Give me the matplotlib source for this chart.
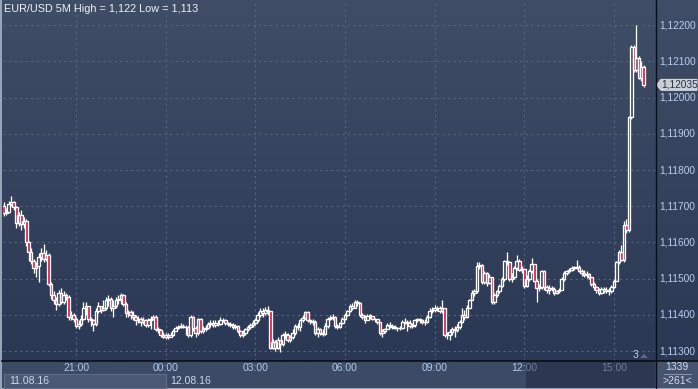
import matplotlib
matplotlib.use("Agg")
import matplotlib.pyplot as plt
from matplotlib.patches import Rectangle, Polygon
from matplotlib.transforms import blended_transform_factory, Bbox, TransformedBbox
import numpy as np
import pandas as pd

plt.rcParams['font.family'] = ['Liberation Sans', 'DejaVu Sans']

# ---------- data: EUR/USD 5M candles, 11.08.16 18:35 -> 12.08.16 16:00 ----------
start_time = "2016-08-11 18:35"
first_open = 1.11700

close = [
    1.11680, 1.11685, 1.11705, 1.11712, 1.11698, 1.11655, 1.11675, 1.11650, 1.11660, 1.11600,
    1.11575, 1.11550, 1.11530, 1.11535, 1.11560, 1.11570, 1.11555, 1.11565, 1.11485, 1.11455,
    1.11440, 1.11430, 1.11460, 1.11435, 1.11455, 1.11450, 1.11395, 1.11400, 1.11390, 1.11370,
    1.11375, 1.11390, 1.11420, 1.11425, 1.11390, 1.11385, 1.11375, 1.11410, 1.11425, 1.11415,
    1.11420, 1.11440, 1.11445, 1.11420, 1.11425, 1.11440, 1.11445, 1.11455, 1.11430, 1.11405,
    1.11408, 1.11400, 1.11395, 1.11385, 1.11390, 1.11380, 1.11385, 1.11372, 1.11385, 1.11390,
    1.11395, 1.11360, 1.11358, 1.11345, 1.11340, 1.11345, 1.11340, 1.11345, 1.11355, 1.11365,
    1.11368, 1.11370, 1.11368, 1.11366, 1.11345, 1.11395, 1.11365, 1.11350, 1.11388, 1.11355,
    1.11362, 1.11365, 1.11375, 1.11378, 1.11372, 1.11378, 1.11375, 1.11385, 1.11387, 1.11378,
    1.11375, 1.11372, 1.11366, 1.11370, 1.11355, 1.11345, 1.11350, 1.11360, 1.11368, 1.11372,
    1.11378, 1.11385, 1.11400, 1.11410, 1.11405, 1.11415, 1.11410, 1.11310, 1.11325, 1.11310,
    1.11330, 1.11320, 1.11345, 1.11345, 1.11330, 1.11340, 1.11350, 1.11370, 1.11368, 1.11385,
    1.11392, 1.11408, 1.11385, 1.11383, 1.11380, 1.11350, 1.11362, 1.11350, 1.11348, 1.11370,
    1.11390, 1.11392, 1.11395, 1.11370, 1.11368, 1.11378, 1.11390, 1.11400, 1.11410, 1.11425,
    1.11420, 1.11435, 1.11432, 1.11400, 1.11395, 1.11385, 1.11398, 1.11398, 1.11390, 1.11388,
    1.11380, 1.11350, 1.11355, 1.11360, 1.11372, 1.11370, 1.11368, 1.11365, 1.11363, 1.11365,
    1.11380, 1.11382, 1.11378, 1.11370, 1.11372, 1.11385, 1.11388, 1.11385, 1.11382, 1.11380,
    1.11395, 1.11410, 1.11415, 1.11420, 1.11418, 1.11412, 1.11418, 1.11345, 1.11345, 1.11352,
    1.11362, 1.11358, 1.11368, 1.11380, 1.11400, 1.11395, 1.11420, 1.11440, 1.11462, 1.11465,
    1.11535, 1.11538, 1.11490, 1.11515, 1.11488, 1.11505, 1.11435, 1.11455, 1.11465, 1.11480,
    1.11500, 1.11548, 1.11545, 1.11500, 1.11505, 1.11530, 1.11550, 1.11525, 1.11528, 1.11480,
    1.11500, 1.11520, 1.11540, 1.11495, 1.11475, 1.11478, 1.11520, 1.11478, 1.11470, 1.11475,
    1.11472, 1.11462, 1.11465, 1.11470, 1.11500, 1.11515, 1.11520, 1.11525, 1.11530, 1.11530,
    1.11533, 1.11522, 1.11515, 1.11510, 1.11512, 1.11505, 1.11485, 1.11478, 1.11470, 1.11462,
    1.11472, 1.11465, 1.11470, 1.11467, 1.11478, 1.11495, 1.11545, 1.11575, 1.11552, 1.11648,
    1.11635, 1.11945, 1.12140, 1.12075, 1.12110, 1.12055, 1.12085, 1.12035,
]

high = [
    1.11712, 1.11695, 1.11715, 1.11728, 1.11715, 1.11700, 1.11685, 1.11690, 1.11670, 1.11665,
    1.11605, 1.11585, 1.11555, 1.11545, 1.11570, 1.11585, 1.11595, 1.11580, 1.11570, 1.11490,
    1.11465, 1.11450, 1.11470, 1.11475, 1.11465, 1.11460, 1.11455, 1.11410, 1.11405, 1.11395,
    1.11385, 1.11400, 1.11435, 1.11435, 1.11425, 1.11395, 1.11390, 1.11420, 1.11435, 1.11425,
    1.11440, 1.11450, 1.11455, 1.11450, 1.11440, 1.11450, 1.11455, 1.11460, 1.11458, 1.11435,
    1.11415, 1.11415, 1.11410, 1.11400, 1.11398, 1.11395, 1.11395, 1.11390, 1.11392, 1.11398,
    1.11400, 1.11400, 1.11368, 1.11360, 1.11352, 1.11350, 1.11350, 1.11352, 1.11362, 1.11370,
    1.11372, 1.11378, 1.11375, 1.11372, 1.11370, 1.11400, 1.11398, 1.11370, 1.11392, 1.11392,
    1.11370, 1.11372, 1.11382, 1.11385, 1.11385, 1.11385, 1.11385, 1.11395, 1.11392, 1.11390,
    1.11382, 1.11380, 1.11378, 1.11376, 1.11372, 1.11358, 1.11358, 1.11365, 1.11372, 1.11378,
    1.11385, 1.11392, 1.11408, 1.11420, 1.11420, 1.11422, 1.11425, 1.11410, 1.11335, 1.11330,
    1.11340, 1.11330, 1.11350, 1.11355, 1.11350, 1.11345, 1.11360, 1.11375, 1.11378, 1.11390,
    1.11400, 1.11412, 1.11410, 1.11390, 1.11388, 1.11385, 1.11368, 1.11365, 1.11360, 1.11378,
    1.11395, 1.11400, 1.11402, 1.11398, 1.11375, 1.11382, 1.11395, 1.11405, 1.11415, 1.11430,
    1.11432, 1.11442, 1.11440, 1.11435, 1.11405, 1.11400, 1.11402, 1.11402, 1.11398, 1.11392,
    1.11390, 1.11382, 1.11362, 1.11365, 1.11378, 1.11380, 1.11374, 1.11372, 1.11368, 1.11370,
    1.11385, 1.11392, 1.11386, 1.11385, 1.11378, 1.11390, 1.11392, 1.11392, 1.11390, 1.11388,
    1.11400, 1.11419, 1.11422, 1.11428, 1.11425, 1.11424, 1.11441, 1.11420, 1.11352, 1.11360,
    1.11368, 1.11370, 1.11375, 1.11385, 1.11420, 1.11415, 1.11428, 1.11445, 1.11468, 1.11472,
    1.11545, 1.11545, 1.11540, 1.11520, 1.11518, 1.11512, 1.11505, 1.11460, 1.11470, 1.11485,
    1.11505, 1.11552, 1.11573, 1.11548, 1.11515, 1.11535, 1.11565, 1.11555, 1.11535, 1.11530,
    1.11510, 1.11528, 1.11558, 1.11542, 1.11500, 1.11485, 1.11525, 1.11525, 1.11482, 1.11482,
    1.11480, 1.11478, 1.11470, 1.11475, 1.11505, 1.11520, 1.11525, 1.11530, 1.11535, 1.11536,
    1.11552, 1.11538, 1.11526, 1.11525, 1.11520, 1.11515, 1.11505, 1.11490, 1.11480, 1.11475,
    1.11478, 1.11476, 1.11478, 1.11475, 1.11482, 1.11500, 1.11550, 1.11580, 1.11593, 1.11658,
    1.11665, 1.11950, 1.12145, 1.12145, 1.12200, 1.12115, 1.12100, 1.12090,
]

low = [
    1.11672, 1.11675, 1.11680, 1.11700, 1.11690, 1.11640, 1.11645, 1.11635, 1.11640, 1.11590,
    1.11550, 1.11540, 1.11515, 1.11505, 1.11490, 1.11550, 1.11545, 1.11550, 1.11480, 1.11445,
    1.11430, 1.11415, 1.11425, 1.11430, 1.11430, 1.11440, 1.11385, 1.11385, 1.11380, 1.11365,
    1.11360, 1.11370, 1.11385, 1.11400, 1.11380, 1.11370, 1.11355, 1.11370, 1.11405, 1.11405,
    1.11410, 1.11415, 1.11425, 1.11410, 1.11395, 1.11420, 1.11430, 1.11430, 1.11425, 1.11395,
    1.11395, 1.11390, 1.11385, 1.11372, 1.11378, 1.11370, 1.11375, 1.11368, 1.11368, 1.11362,
    1.11385, 1.11355, 1.11350, 1.11340, 1.11336, 1.11335, 1.11335, 1.11338, 1.11342, 1.11355,
    1.11362, 1.11365, 1.11364, 1.11345, 1.11340, 1.11340, 1.11355, 1.11340, 1.11345, 1.11350,
    1.11350, 1.11355, 1.11362, 1.11368, 1.11368, 1.11368, 1.11370, 1.11372, 1.11380, 1.11372,
    1.11370, 1.11366, 1.11362, 1.11360, 1.11350, 1.11340, 1.11338, 1.11345, 1.11355, 1.11362,
    1.11368, 1.11372, 1.11380, 1.11395, 1.11395, 1.11400, 1.11400, 1.11305, 1.11305, 1.11300,
    1.11305, 1.11298, 1.11315, 1.11335, 1.11325, 1.11325, 1.11335, 1.11345, 1.11358, 1.11355,
    1.11380, 1.11390, 1.11380, 1.11375, 1.11372, 1.11345, 1.11338, 1.11345, 1.11342, 1.11345,
    1.11365, 1.11385, 1.11385, 1.11365, 1.11362, 1.11365, 1.11375, 1.11385, 1.11398, 1.11408,
    1.11415, 1.11418, 1.11425, 1.11395, 1.11390, 1.11378, 1.11385, 1.11390, 1.11385, 1.11380,
    1.11375, 1.11345, 1.11338, 1.11350, 1.11360, 1.11365, 1.11362, 1.11360, 1.11356, 1.11358,
    1.11362, 1.11375, 1.11355, 1.11365, 1.11365, 1.11368, 1.11380, 1.11378, 1.11376, 1.11372,
    1.11378, 1.11392, 1.11405, 1.11408, 1.11410, 1.11405, 1.11405, 1.11340, 1.11335, 1.11330,
    1.11345, 1.11340, 1.11352, 1.11362, 1.11378, 1.11385, 1.11392, 1.11418, 1.11440, 1.11452,
    1.11462, 1.11528, 1.11485, 1.11485, 1.11480, 1.11485, 1.11430, 1.11430, 1.11450, 1.11460,
    1.11478, 1.11495, 1.11538, 1.11495, 1.11492, 1.11500, 1.11525, 1.11520, 1.11515, 1.11475,
    1.11478, 1.11495, 1.11515, 1.11490, 1.11436, 1.11465, 1.11472, 1.11470, 1.11462, 1.11458,
    1.11465, 1.11455, 1.11458, 1.11462, 1.11468, 1.11495, 1.11510, 1.11515, 1.11522, 1.11524,
    1.11526, 1.11518, 1.11508, 1.11505, 1.11502, 1.11498, 1.11480, 1.11470, 1.11462, 1.11455,
    1.11458, 1.11460, 1.11460, 1.11455, 1.11462, 1.11475, 1.11495, 1.11540, 1.11548, 1.11545,
    1.11625, 1.11630, 1.11940, 1.12070, 1.12070, 1.12050, 1.12045, 1.12030,
]

price_ticks = [1.11300, 1.11400, 1.11500, 1.11600, 1.11700, 1.11800, 1.11900, 1.12000, 1.12100, 1.12200]
bar_count = "1339"
visible_count = ">261<"
marker_label = "3"

# ---------- style ----------
W, H = 698, 389
BG_TOP = np.array([64, 77, 102]) / 255
BG_BOT = np.array([43, 56, 85]) / 255
GRID = "#56647e"
RED = "#e0143c"
AXIS_TXT = "#aecbef"
DIM_TXT = "#6f7e99"
FS = 7.5


def comma(p, nd=5):
    return f"{p:.{nd}f}".replace(".", ",")


close = np.array(close)
high = np.array(high)
low = np.array(low)
opens = np.concatenate([[first_open], close[:-1]])
idx = np.arange(len(close))
times = pd.date_range(start_time, periods=len(close), freq="5min")

fig = plt.figure(figsize=(W / 100, H / 100), dpi=100)
fig.patch.set_facecolor("#3d4a65")

# gradient background behind plot + price scale
ax_bg = fig.add_axes([0, 28 / H, 1, 361 / H])
grad = np.linspace(0, 1, 256)[:, None, None]
img = BG_TOP * (1 - grad) + BG_BOT * grad
ax_bg.imshow(np.repeat(img, 2, axis=1), aspect="auto", extent=[0, 1, 0, 1], origin="upper")
ax_bg.axis("off")

# main chart axes
ax = fig.add_axes([3 / W, 28 / H, 652 / W, 361 / H])
ax.set_facecolor("none")
ax.set_xlim(-0.32, 261.5)
ax.set_ylim(1.112731, 1.1226897)
for s in ax.spines.values():
    s.set_visible(False)
ax.set_xticks([])
ax.set_yticks([])

# grid
hour_idx = [i for i, t in enumerate(times) if t.minute == 0 and t.hour % 3 == 0]
for p in price_ticks:
    ax.axhline(p, color=GRID, lw=0.8, ls=(0, (2, 3)), zorder=1)
for i in hour_idx:
    ax.axvline(i, color=GRID, lw=0.8, ls=(0, (2, 3)), zorder=1)

# candles
body_lo = np.minimum(opens, close)
body_hi = np.maximum(opens, close)
heights = np.maximum(body_hi - body_lo, 0.000018)
ax.vlines(idx, low, body_lo, color="white", lw=0.95, zorder=2)
ax.vlines(idx, body_hi, high, color="white", lw=0.95, zorder=2)
faces = [RED if c < o else "none" for o, c in zip(opens, close)]
ax.bar(idx, heights, bottom=body_lo, width=1.05, color=faces,
       edgecolor="white", linewidth=0.95, zorder=3)

# ---------- overlay in pixel coordinates ----------
ui = fig.add_axes([0, 0, 1, 1], zorder=5)
ui.set_xlim(0, W)
ui.set_ylim(H, 0)
ui.axis("off")
ui.patch.set_alpha(0)

# borders and panels
ui.add_patch(Rectangle((0, 0), 2, H, color="#9aa4b6", lw=0))
ui.add_patch(Rectangle((2, 361), 524, 28, color="#3d4a66", lw=0))
ui.add_patch(Rectangle((526, 361), 129, 28, color="#2c3752", lw=0))
ui.add_patch(Rectangle((656, 361), 42, 28, color="#46536e", lw=0))
ui.add_patch(Rectangle((0, 387.5), W, 1.5, color="#9aa4b6", lw=0))
ui.plot([2, W], [361, 361], color="#0b0e14", lw=1.2)
ui.plot([655.5, 655.5], [0, 389], color="#0b0e14", lw=1.0)

# title
title = f"EUR/USD 5M High = {comma(high.max(), 3)} Low = {comma(low.min(), 3)}"
ui.text(4, 8.5, title, color="#eef2f8", fontsize=7.8, va="center", ha="left")

# time labels (bright on the light part of the bar, dim on the dark part)
bx = blended_transform_factory(ax.transData, ui.transData)
clip_light = TransformedBbox(Bbox([[2, 361], [526, 389]]), ui.transData)
clip_dark = TransformedBbox(Bbox([[526, 361], [655, 389]]), ui.transData)
for i in hour_idx:
    for col, cb in ((AXIS_TXT, clip_light), (DIM_TXT, clip_dark)):
        t = ui.text(i, 368, times[i].strftime("%H:%M"), transform=bx, color=col,
                    fontsize=FS, ha="center", va="center")
        t.set_clip_box(cb)
        t.set_clip_on(True)

# date labels
midnight = [i for i in hour_idx if times[i].hour == 0][0]
x0 = ui.transData.inverted().transform((ax.transData.transform((0, 0))[0], 0))[0]
xm = ui.transData.inverted().transform((ax.transData.transform((midnight, 0))[0], 0))[0]
ui.add_patch(Rectangle((x0, 373.5), xm - x0, 14, facecolor="#4b5874", edgecolor="#5f6c87", lw=0.8))
ui.text(x0 + 5, 380.5, times[0].strftime("%d.%m.%y"), color="#cdd8ea", fontsize=FS, va="center")
ui.text(xm + 5, 380.5, times[midnight].strftime("%d.%m.%y"), color="#cdd8ea", fontsize=FS, va="center")

# price scale labels
by = blended_transform_factory(ui.transData, ax.transData)
for p in price_ticks:
    ui.text(659, p, comma(p), transform=by, color="#b8d0f0", fontsize=7.3, va="center", ha="left")

# current price tag
yc = ui.transData.inverted().transform(ax.transData.transform((0, close[-1])))[1]
tag = Polygon([(656.5, yc), (661, yc - 5.5), (697, yc - 5.5), (697, yc + 5.5), (661, yc + 5.5)],
              closed=True, facecolor="#c9cdd4", edgecolor="#e4e7ec", lw=0.6)
ui.add_patch(tag)
ui.text(661, yc, comma(close[-1]), color="#26314a", fontsize=7.3, va="center", ha="left")

# bottom-right counters
ui.text(677, 367.5, bar_count, color="#d0dbee", fontsize=FS, ha="center", va="center")
ui.plot([664, 691], [374, 374], color="#8d98ab", lw=0.7)
ui.text(677, 381, visible_count, color="#d0dbee", fontsize=FS, ha="center", va="center")

# small marker near the bottom of the chart
ui.text(636, 355, marker_label, color="#c6d3e6", fontsize=FS, ha="center", va="center")
ui.add_patch(Polygon([(640, 358), (644, 353.5), (648, 358)], closed=True, color="#5c6781", lw=0))

fig.savefig("out.png", dpi=100)
